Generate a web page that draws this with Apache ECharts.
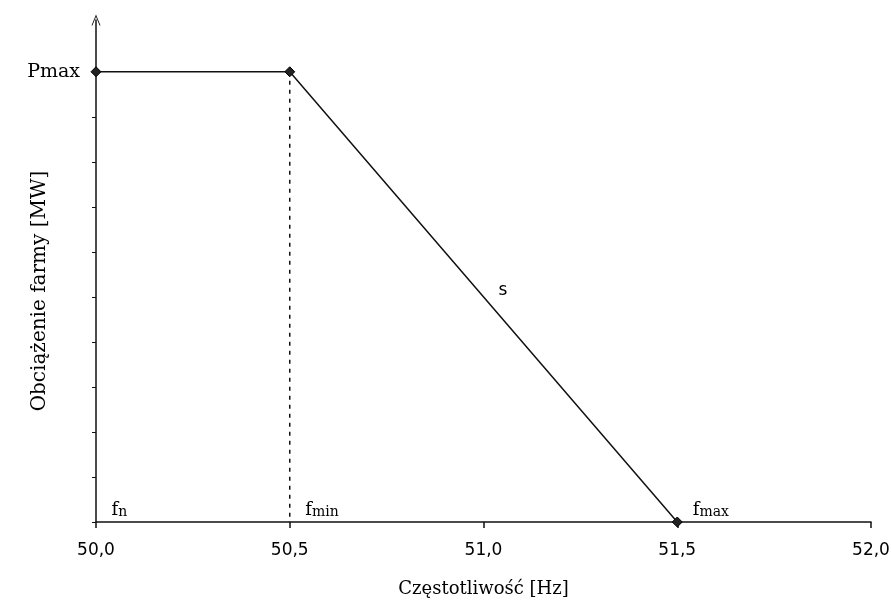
<!DOCTYPE html>
<html>
<head>
<meta charset="utf-8">
<title>Charakterystyka P(f)</title>
<script src="https://cdn.jsdelivr.net/npm/echarts@6/dist/echarts.min.js"></script>
<style>
  html, body { margin: 0; padding: 0; background: #fff; }
  #chart { width: 892px; height: 607px; }
</style>
</head>
<body>
<div id="chart"></div>
<script>
// dane charakterystyki (Pmax = 10 jednostek na osi Y)
var freq = [50.0, 50.5, 51.5];
var load = [10, 10, 0];
var dashFreq = [50.5, 50.5];
var dashLoad = [10, 0];
var markFreq = [50.0, 50.5, 51.5];
var markSub = ['n', 'min', 'max'];
var slopePoint = [51.05, 5.15];
var yTicks = [0, 1, 2, 3, 4, 5, 6, 7, 8, 9, 10];
var yLabelName = 'Pmax';

var serif = '"DejaVu Serif", "Liberation Serif", serif';

var myChart = echarts.init(document.getElementById('chart'), null, { renderer: 'canvas' });

var option = {
    backgroundColor: '#fff',
    animation: false,
    grid: { left: 96, right: 21, top: 20, bottom: 85, outerBoundsMode: 'none', containLabel: false },
    xAxis: {
        type: 'value',
        min: 50,
        max: 52,
        interval: 0.5,
        name: 'Częstotliwość [Hz]',
        nameLocation: 'middle',
        nameGap: 58,
        nameMoveOverlap: false,
        nameTextStyle: { fontFamily: serif, fontSize: 18, color: '#000' },
        axisLine: { onZero: false, lineStyle: { color: '#111', width: 1.5 } },
        axisTick: { show: true, inside: false, length: 6, lineStyle: { color: '#111', width: 1.5 } },
        splitLine: { show: false },
        axisLabel: {
            margin: 20,
            fontFamily: '"DejaVu Sans", sans-serif',
            fontSize: 17,
            color: '#000',
            formatter: function (v) {
                return v.toFixed(1).replace('.', ',');
            }
        }
    },
    yAxis: {
        type: 'value',
        min: 0,
        max: 11.15,
        interval: 1,
        name: 'Obciążenie farmy [MW]',
        nameLocation: 'middle',
        nameGap: 46,
        nameMoveOverlap: false,
        nameTextStyle: { fontFamily: serif, fontSize: 20, color: '#000', padding: [0, 40, 0, 0] },
        axisLine: {
            onZero: false,
            lineStyle: { color: '#111', width: 1.5 },
            symbol: ['none', 'path://M0,12L5,0L10,12L9,12L5,2.5L1,12Z'],
            symbolSize: [9, 12]
        },
        axisTick: { show: true, length: 4, customValues: yTicks, lineStyle: { color: '#111' } },
        splitLine: { show: false },
        axisLabel: {
            customValues: [10],
            margin: 16,
            fontFamily: serif,
            fontSize: 19,
            color: '#000',
            formatter: function (v) {
                return v === 10 ? yLabelName : '';
            }
        }
    },
    series: [
        {
            name: 'P(f)',
            type: 'line',
            data: freq.map(function (f, i) { return [f, load[i]]; }),
            symbol: 'diamond',
            symbolSize: 10,
            showAllSymbol: true,
            lineStyle: { color: '#111', width: 1.5 },
            itemStyle: { color: '#222', borderColor: '#000', borderWidth: 1 },
            z: 3
        },
        {
            name: 'fmin',
            type: 'line',
            data: dashFreq.map(function (f, i) { return [f, dashLoad[i]]; }),
            symbol: 'none',
            lineStyle: { color: '#111', width: 1.5, type: [4, 5] },
            z: 2
        },
        {
            name: 'opisy',
            type: 'scatter',
            data: markFreq.map(function (f, i) { return [f, 0, markSub[i]]; }),
            symbolSize: 1,
            itemStyle: { color: '#fff', opacity: 0 },
            label: {
                show: true,
                position: [16, -22],
                color: '#000',
                opacity: 1,
                formatter: function (p) {
                    return '{f|f}{s|' + p.data[2] + '}';
                },
                rich: {
                    f: { fontFamily: serif, fontSize: 18, color: '#000', verticalAlign: 'bottom' },
                    s: { fontFamily: serif, fontSize: 14, color: '#000', verticalAlign: 'bottom', padding: [6, 0, 0, 0] }
                }
            },
            silent: true,
            z: 4
        },
        {
            name: 's',
            type: 'scatter',
            data: [slopePoint],
            symbolSize: 1,
            itemStyle: { color: '#fff', opacity: 0 },
            label: {
                show: true,
                position: 'inside',
                formatter: 's',
                fontFamily: '"DejaVu Sans", sans-serif',
                fontSize: 17,
                color: '#000',
                opacity: 1
            },
            silent: true,
            z: 4
        }
    ]
};

myChart.setOption(option);
</script>
</body>
</html>
